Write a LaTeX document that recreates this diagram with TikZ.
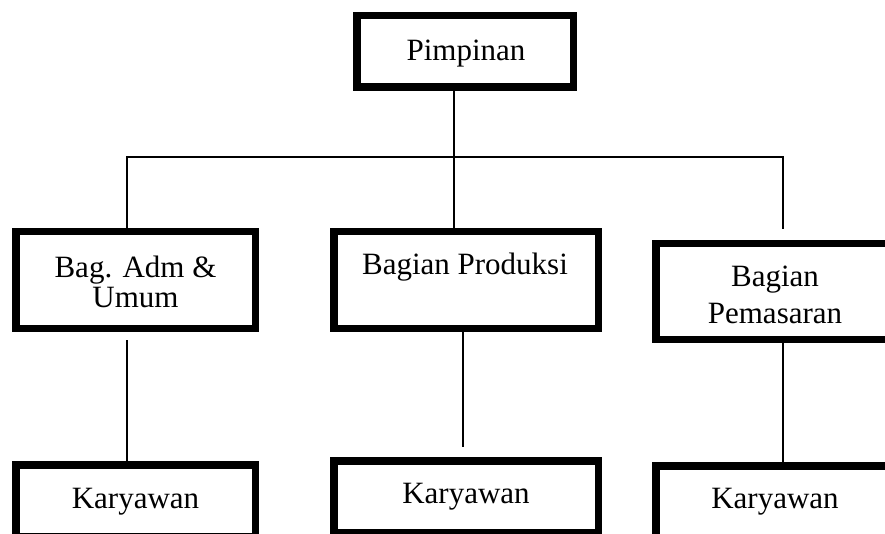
\documentclass[tikz,border=0pt]{standalone}
\usepackage{fontspec}
\setmainfont{Liberation Serif}
\begin{document}
\begin{tikzpicture}[x=1pt,y=-1pt,
  box/.style={draw=black,line width=7.5pt,rectangle,inner sep=0pt},
  lbl/.style={inner sep=0pt,anchor=base,font=\fontsize{31}{31}\selectfont},
  conn/.style={draw=black,line width=1.4pt}]
\useasboundingbox (0,0) rectangle (885,534);
\clip (0,0) rectangle (885,534);
\fill[white] (0,0) rectangle (885,534);
% boxes
\node[box,minimum width=216.5pt,minimum height=71.5pt] (pim) at (465,51.5) {};
\node[box,minimum width=239.5pt,minimum height=96.5pt] (adm) at (135.5,280) {};
\node[box,minimum width=264.5pt,minimum height=96.5pt] (prod) at (466,280) {};
\node[box,minimum width=238.5pt,minimum height=95.5pt] (pem) at (775,291.5) {};
\node[box,minimum width=239.5pt,minimum height=71.5pt] (k1) at (135.5,500.5) {};
\node[box,minimum width=264.5pt,minimum height=71.5pt] (k2) at (466,496.5) {};
\node[box,minimum width=238.5pt,minimum height=71.5pt] (k3) at (775,501.5) {};
% labels (one node per printed line, placed on its baseline)
\node[lbl] (tpim) at (466,60.5) {Pimpinan};
\node[lbl] (tadm1) at (135.5,277) {Bag. Adm \&};
\node[lbl] (tadm2) at (135.5,308) {Umum};
\node[lbl] (tprod) at (465,275) {Bagian Produksi};
\node[lbl] (tpem1) at (775,287) {Bagian};
\node[lbl] (tpem2) at (775,323) {Pemasaran};
\node[lbl] (tk1) at (135.5,508) {Karyawan};
\node[lbl] (tk2) at (466,503) {Karyawan};
\node[lbl] (tk3) at (775,508) {Karyawan};
% junction coordinates
\coordinate (jc) at (454,157);
\coordinate (jl) at (127,157);
\coordinate (jr) at (783,157);
\coordinate (rend) at (783,229);
\coordinate (a1) at (127,340);
\coordinate (p2) at (463,447);
% connectors
\draw[conn] (pim.south -| jc) -- (prod.north -| jc);
\draw[conn] (adm.north -| jl) -- (jl) -- (jr) -- (rend);
\draw[conn] (a1) -- (k1.north -| a1);
\draw[conn] (prod.south -| p2) -- (p2);
\draw[conn] (pem.south -| jr) -- (k3.north -| jr);
\end{tikzpicture}
\end{document}
